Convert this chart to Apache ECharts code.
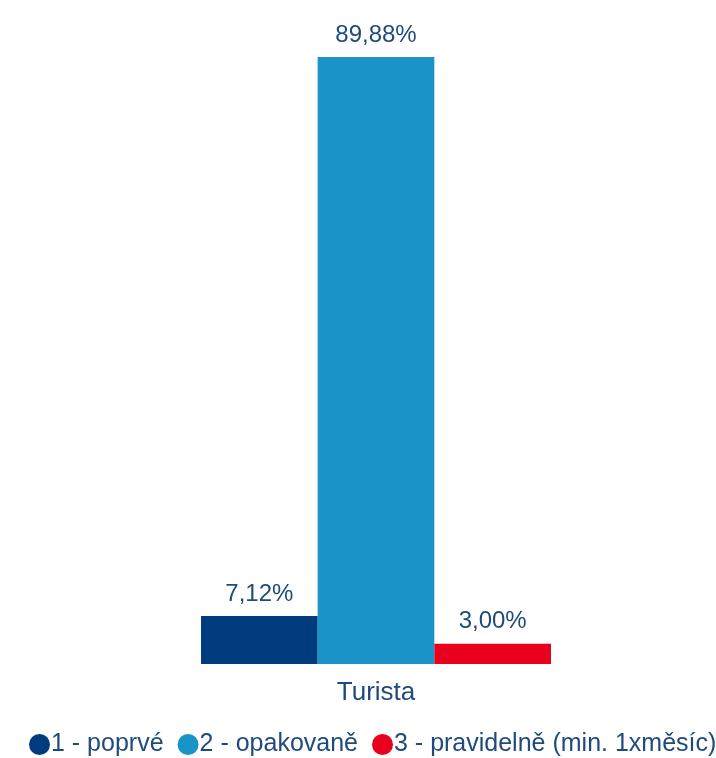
<!DOCTYPE html>
<html>
<head>
<meta charset="utf-8">
<script src="https://cdn.jsdelivr.net/npm/echarts@6/dist/echarts.min.js"></script>
<style>html,body{margin:0;padding:0;background:#fff}#c{width:716px;height:758px}</style>
</head>
<body>
<div id="c"></div>
<script>
var categories = ['Turista'];
var seriesNames = ['1 - poprvé', '2 - opakovaně', '3 - pravidelně (min. 1xměsíc)'];
var values1 = [7.12];
var values2 = [89.88];
var values3 = [3.00];
var colors = ['#003C7D', '#1A93C9', '#E8001C'];
var textColor = '#1F4A7C';
var font = 'Liberation Sans';

var chart = echarts.init(document.getElementById('c'));
function mk(name, data, color) {
  return {
    name: name, type: 'bar', data: data, barGap: '0%', barCategoryGap: '0%',
    itemStyle: { color: color },
    label: {
      show: true, position: 'top', distance: 10, color: textColor,
      fontFamily: font, fontSize: 24,
      formatter: function (p) { return p.value.toFixed(2).replace('.', ',') + '%'; }
    }
  };
}
chart.setOption({
  animation: false,
  legend: {
    top: 732, left: 29, width: 700, padding: 0, icon: 'circle', itemWidth: 21, itemHeight: 21, itemGap: 14,
    textStyle: { color: textColor, fontFamily: font, fontSize: 25, padding: [0, 0, 0, -4] }
  },
  grid: { left: 201, right: 165, top: 57, bottom: 94 },
  xAxis: {
    type: 'category', data: categories,
    axisLine: { show: false }, axisTick: { show: false },
    axisLabel: { color: textColor, fontFamily: font, fontSize: 26, margin: 16 }
  },
  yAxis: { type: 'value', min: 0, max: 'dataMax', show: false, splitLine: { show: false } },
  series: [mk(seriesNames[0], values1, colors[0]), mk(seriesNames[1], values2, colors[1]), mk(seriesNames[2], values3, colors[2])]
});
</script>
</body>
</html>
